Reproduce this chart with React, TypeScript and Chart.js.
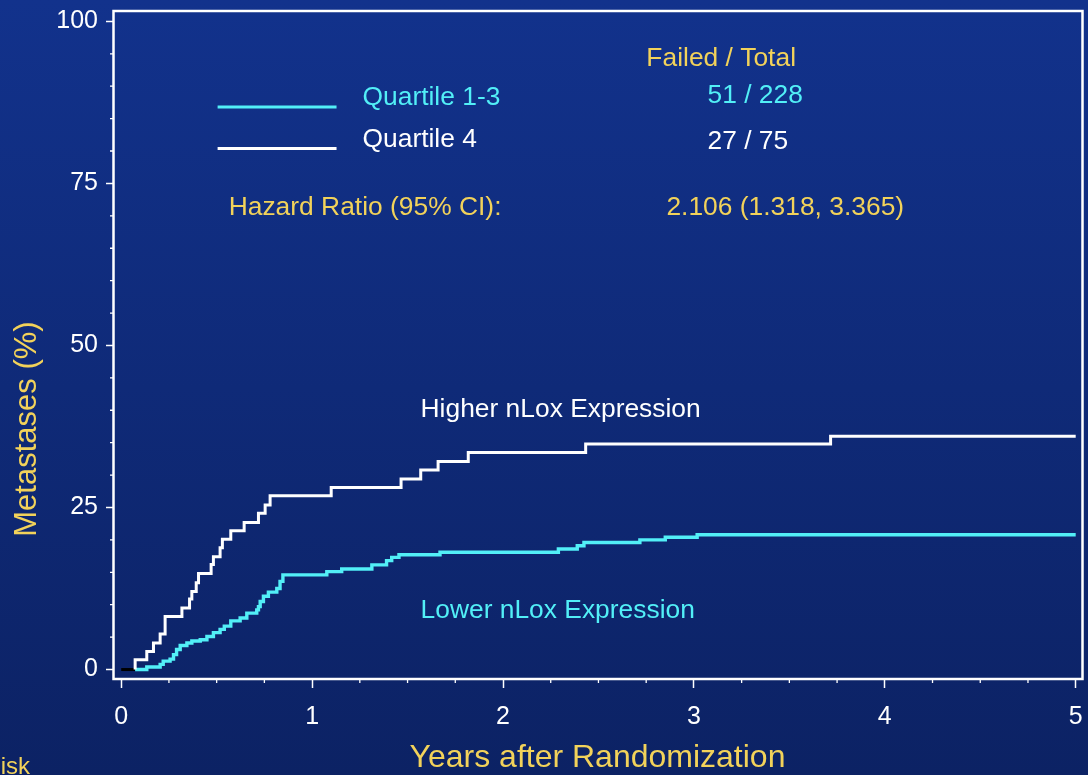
import React, { useEffect, useRef } from "react";
import { Chart, registerables } from "chart.js";

Chart.register(...registerables);

// Quartile 4 (higher nLox expression) – cumulative metastases (%)
const highTimes = [0.073, 0.073, 0.134, 0.169, 0.204, 0.23, 0.318, 0.358, 0.37, 0.393, 0.405, 0.471, 0.483, 0.518, 0.53, 0.574, 0.644, 0.719, 0.754, 0.78, 1.1, 1.466, 1.569, 1.66, 1.818, 2.433, 3.716, 5.0];
const highValues = [0, 1.5, 2.8, 4.1, 5.5, 8.2, 9.5, 10.9, 12.05, 13.4, 14.8, 16.2, 17.4, 18.8, 20.1, 21.4, 22.7, 24.1, 25.4, 26.8, 28.1, 29.4, 30.8, 32.1, 33.5, 34.8, 36.0, 36.0];

// Quartile 1-3 (lower nLox expression)
const lowTimes = [0.073, 0.134, 0.204, 0.22, 0.256, 0.274, 0.29, 0.309, 0.344, 0.37, 0.414, 0.449, 0.483, 0.518, 0.54, 0.574, 0.623, 0.658, 0.71, 0.719, 0.728, 0.745, 0.771, 0.815, 0.832, 0.847, 1.077, 1.155, 1.313, 1.39, 1.417, 1.455, 1.67, 2.29, 2.389, 2.424, 2.717, 2.85, 3.017, 5.0];
const lowValues = [0, 0.4, 0.8, 1.3, 1.6, 2.3, 3.1, 3.7, 4.1, 4.4, 4.6, 5.1, 5.7, 6.2, 6.7, 7.5, 7.95, 8.7, 9.2, 9.7, 10.5, 11.3, 11.95, 12.5, 13.6, 14.6, 15.1, 15.5, 16.15, 16.8, 17.3, 17.7, 18.1, 18.6, 19.1, 19.6, 20.0, 20.4, 20.8, 20.8];

// short dark segment at the origin
const startTimes = [0, 0.073];
const startValues = [0, 0];

const xTickLabels = ["0", "1", "2", "3", "4", "5"];
const yTickLabels = ["0", "25", "50", "75", "100"];

const seriesNames = ["Quartile 1-3", "Quartile 4"];
const failedTotals = ["51 / 228", "27 / 75"];
const hazardLabel = "Hazard Ratio (95% CI):";
const hazardValue = "2.106 (1.318, 3.365)";
const curveLabels = ["Higher nLox Expression", "Lower nLox Expression"];

const CYAN = "#52eff7";
const WHITE = "#ffffff";
const YELLOW = "#f2d25a";
const FONT = "'Liberation Sans', Arial, Helvetica, sans-serif";

const X_MIN = -0.043;
const X_MAX = 5.033;
const Y_MIN = -1.46;
const Y_MAX = 101.6;

const xTickValues: number[] = [];
for (let i = 0; i <= 20; i++) xTickValues.push(i * 0.25);
const yTickValues: number[] = [];
for (let i = 0; i <= 20; i++) yTickValues.push(i * 5);

const isXMajor = (v: number) => Math.abs(v - Math.round(v)) < 1e-6;
const isYMajor = (v: number) => Math.abs(v % 25) < 1e-6;

const bgPlugin = {
  id: "bg",
  beforeDraw(chart: any) {
    const { ctx, width, height } = chart;
    ctx.save();
    const g = ctx.createLinearGradient(0, 0, 0, height);
    g.addColorStop(0, "rgb(18,50,140)");
    g.addColorStop(1, "rgb(12,34,100)");
    ctx.fillStyle = g;
    ctx.fillRect(0, 0, width, height);
    ctx.restore();
  },
};

const decorPlugin = {
  id: "decor",
  afterDraw(chart: any) {
    const { ctx, chartArea } = chart;
    const xs = chart.scales.x;
    const ys = chart.scales.y;
    const X = (v: number) => xs.getPixelForValue(v);
    const Y = (v: number) => ys.getPixelForValue(v);
    ctx.save();
    // frame
    ctx.strokeStyle = WHITE;
    ctx.lineWidth = 2.5;
    ctx.strokeRect(chartArea.left + 0.5, chartArea.top, chartArea.right - chartArea.left, chartArea.bottom - chartArea.top);

    // minor ticks
    ctx.lineWidth = 1.3;
    ctx.beginPath();
    xTickValues.forEach((v) => {
      if (!isXMajor(v)) {
        const p = X(v);
        ctx.moveTo(p, chartArea.bottom);
        ctx.lineTo(p, chartArea.bottom + 4);
      }
    });
    yTickValues.forEach((v) => {
      if (!isYMajor(v)) {
        const p = Y(v);
        ctx.moveTo(chartArea.left - 3, p);
        ctx.lineTo(chartArea.left, p);
      }
    });
    ctx.stroke();

    // legend lines
    ctx.lineWidth = 3;
    ctx.strokeStyle = CYAN;
    ctx.beginPath();
    ctx.moveTo(X(0.505), Y(86.8));
    ctx.lineTo(X(1.128), Y(86.8));
    ctx.stroke();
    ctx.strokeStyle = WHITE;
    ctx.beginPath();
    ctx.moveTo(X(0.505), Y(80.4));
    ctx.lineTo(X(1.128), Y(80.4));
    ctx.stroke();

    // texts
    ctx.textBaseline = "alphabetic";
    ctx.textAlign = "left";
    ctx.font = `26.4px ${FONT}`;
    const put = (t: string, x: number, y: number, c: string) => {
      ctx.fillStyle = c;
      ctx.fillText(t, X(x), Y(y));
    };
    put("Failed / Total", 2.751, 93.1, YELLOW);
    put(seriesNames[0], 1.264, 87.05, CYAN);
    put(failedTotals[0], 3.071, 87.4, CYAN);
    put(seriesNames[1], 1.264, 80.6, WHITE);
    put(failedTotals[1], 3.071, 80.3, WHITE);
    put(hazardLabel, 0.563, 70.1, YELLOW);
    put(hazardValue, 2.856, 70.1, YELLOW);
    put(curveLabels[0], 1.568, 38.9, WHITE);
    put(curveLabels[1], 1.568, 8.0, CYAN);

    // y axis title
    ctx.save();
    ctx.translate(chartArea.left - 86, Y(37.1));
    ctx.rotate(-Math.PI / 2);
    ctx.textAlign = "center";
    ctx.textBaseline = "middle";
    ctx.font = `31px ${FONT}`;
    ctx.fillStyle = YELLOW;
    ctx.fillText("Metastases (%)", 0, 0);
    ctx.restore();

    // cut-off risk table label
    ctx.textAlign = "right";
    ctx.font = `24px ${FONT}`;
    ctx.fillStyle = YELLOW;
    ctx.fillText("Risk", 30, 774);
    ctx.restore();
  },
};

export default function App() {
  const ref = useRef<HTMLCanvasElement>(null);
  useEffect(() => {
    const canvas = ref.current;
    if (!canvas) return;
    const mk = (ts: number[], vs: number[]) => ts.map((t, i) => ({ x: t, y: vs[i] }));
    const chart = new Chart(canvas, {
      type: "line",
      data: {
        datasets: [
          {
            label: seriesNames[1],
            data: mk(highTimes, highValues),
            borderColor: WHITE,
            borderWidth: 3,
            stepped: "before",
            pointRadius: 0,
            fill: false,
          },
          {
            label: seriesNames[0],
            data: mk(lowTimes, lowValues),
            borderColor: CYAN,
            borderWidth: 3.4,
            stepped: "before",
            pointRadius: 0,
            fill: false,
          },
          {
            label: "start",
            data: mk(startTimes, startValues),
            borderColor: "#000000",
            borderWidth: 3,
            pointRadius: 0,
            fill: false,
          },
        ],
      },
      options: {
        animation: false,
        responsive: false,
        devicePixelRatio: 1,
        layout: { padding: { top: 11, right: 6, left: 0, bottom: 0 } },
        plugins: { legend: { display: false }, tooltip: { enabled: false } },
        scales: {
          x: {
            type: "linear",
            min: X_MIN,
            max: X_MAX,
            afterBuildTicks: (s: any) => {
              s.ticks = xTickValues.map((v) => ({ value: v }));
            },
            afterFit: (s: any) => {
              s.height = 96;
              s.paddingLeft = 0;
              s.paddingRight = 0;
              s.paddingTop = 0;
              s.paddingBottom = 0;
            },
            ticks: {
              autoSkip: false,
              maxRotation: 0,
              color: WHITE,
              padding: 14,
              font: { family: FONT, size: 25 },
              callback: (v: any) => (isXMajor(Number(v)) ? xTickLabels[Math.round(Number(v))] : ""),
            },
            grid: {
              drawOnChartArea: false,
              drawTicks: true,
              tickLength: 9,
              tickWidth: 1.5,
              tickColor: (c: any) => (c.tick && isXMajor(c.tick.value) ? WHITE : "rgba(0,0,0,0)"),
            },
            border: { display: false },
            title: {
              display: true,
              text: "Years after Randomization",
              color: YELLOW,
              font: { family: FONT, size: 32, lineHeight: 1.05 },
              padding: { top: 0, bottom: 0 },
            },
          },
          y: {
            type: "linear",
            min: Y_MIN,
            max: Y_MAX,
            afterBuildTicks: (s: any) => {
              s.ticks = yTickValues.map((v) => ({ value: v }));
            },
            afterFit: (s: any) => {
              s.width = 113;
              s.paddingLeft = 0;
              s.paddingRight = 0;
              s.paddingTop = 0;
              s.paddingBottom = 0;
            },
            ticks: {
              autoSkip: false,
              color: WHITE,
              padding: 8,
              font: { family: FONT, size: 25 },
              callback: (v: any) => (isYMajor(Number(v)) ? yTickLabels[Math.round(Number(v) / 25)] : ""),
            },
            grid: {
              drawOnChartArea: false,
              drawTicks: true,
              tickLength: 7,
              tickWidth: 1.5,
              tickColor: (c: any) => (c.tick && isYMajor(c.tick.value) ? WHITE : "rgba(0,0,0,0)"),
            },
            border: { display: false },
          },
        },
      } as any,
      plugins: [bgPlugin, decorPlugin],
    });
    return () => chart.destroy();
  }, []);
  return (
    <div style={{ position: "fixed", left: 0, top: 0, width: 1088, height: 775, background: "rgb(14,40,115)" }}>
      <canvas ref={ref} width={1088} height={775} style={{ display: "block", width: 1088, height: 775 }} />
    </div>
  );
}
